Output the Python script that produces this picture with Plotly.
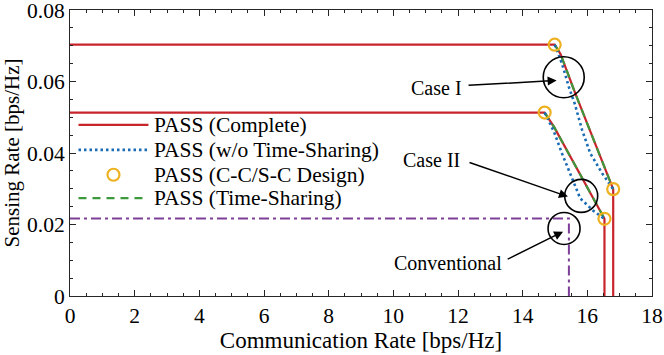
import plotly.graph_objects as go

# ---------------- data ----------------
# Case I (upper) curves
c1_complete_x = [0.0, 14.99, 15.17, 15.63, 16.80, 16.80]
c1_complete_y = [0.0703, 0.0703, 0.0677, 0.0566, 0.0299, 0.0]
c1_nots_x = [14.99, 15.22, 15.43, 15.61, 15.84, 16.09, 16.46, 16.80]
c1_nots_y = [0.0703, 0.0649, 0.0584, 0.0538, 0.0464, 0.0399, 0.0343, 0.0299]
c1_ts_x = [14.99, 15.17, 15.63, 16.80]
c1_ts_y = [0.0703, 0.0677, 0.0566, 0.0299]
c1_design_x = [14.99, 16.80]
c1_design_y = [0.0703, 0.0299]

# Case II (lower) curves
c2_complete_x = [0.0, 14.68, 14.97, 16.53, 16.53]
c2_complete_y = [0.0513, 0.0513, 0.0473, 0.0216, 0.0]
c2_nots_x = [14.68, 14.97, 15.22, 15.53, 15.78, 16.19, 16.53]
c2_nots_y = [0.0513, 0.0459, 0.0398, 0.0329, 0.0273, 0.0238, 0.0216]
c2_ts_x = [14.68, 14.97, 16.53]
c2_ts_y = [0.0513, 0.0473, 0.0216]
c2_design_x = [14.68, 16.53]
c2_design_y = [0.0513, 0.0216]

# Conventional
conv_x = [0.0, 15.43, 15.43]
conv_y = [0.0217, 0.0217, 0.0]

x_ticks = [0, 2, 4, 6, 8, 10, 12, 14, 16, 18]
y_ticks = [0, 0.02, 0.04, 0.06, 0.08]
y_tick_labels = ["0", "0.02", "0.04", "0.06", "0.08"]

legend_names = ["PASS (Complete)", "PASS (w/o Time-Sharing)",
                "PASS (C-C/S-C Design)", "PASS (Time-Sharing)"]

RED = "#C8242B"
BLUE = "#1A6BB5"
YEL = "#EDB120"
GRN = "#3C9A3C"
PUR = "#7E3F98"
FONT = "'Liberation Serif', 'Times New Roman', Times, serif"
AX = "#262626"

fig = go.Figure()

for xs, ys in [(c1_complete_x, c1_complete_y), (c2_complete_x, c2_complete_y)]:
    fig.add_trace(go.Scatter(x=xs, y=ys, mode="lines",
                             line=dict(color=RED, width=2.2), showlegend=False))
for xs, ys in [(c1_ts_x, c1_ts_y), (c2_ts_x, c2_ts_y)]:
    fig.add_trace(go.Scatter(x=xs, y=ys, mode="lines",
                             line=dict(color=GRN, width=2.2, dash="8px,6px"), showlegend=False))
for xs, ys in [(c1_nots_x, c1_nots_y), (c2_nots_x, c2_nots_y)]:
    fig.add_trace(go.Scatter(x=xs, y=ys, mode="lines",
                             line=dict(color=BLUE, width=2.6, dash="2.5px,3px"), showlegend=False))
fig.add_trace(go.Scatter(x=conv_x, y=conv_y, mode="lines",
                         line=dict(color=PUR, width=2, dash="10px,4px,3px,4px"), showlegend=False))
for xs, ys in [(c1_design_x, c1_design_y), (c2_design_x, c2_design_y)]:
    fig.add_trace(go.Scatter(x=xs, y=ys, mode="markers",
                             marker=dict(symbol="circle-open", size=12, color=YEL,
                                         line=dict(width=2.2, color=YEL)),
                             showlegend=False, cliponaxis=False))

shapes = []
# annotation circles (pixel-sized, anchored in data coords)
for cx, cy, r in [(15.27, 0.0612, 20.5), (15.81, 0.0280, 16.5), (15.28, 0.0189, 16)]:
    shapes.append(dict(type="circle", xref="x", yref="y", xsizemode="pixel", ysizemode="pixel",
                       xanchor=cx, yanchor=cy, x0=-r, x1=r, y0=-r, y1=r,
                       line=dict(color="black", width=1.6)))

# custom legend (long line samples)
leg_y = [0.598, 0.511, 0.424, 0.342]
lx0, lx1, ltx = 0.0146, 0.1348, 0.1417
shapes.append(dict(type="line", xref="paper", yref="paper", x0=lx0, x1=lx1, y0=leg_y[0], y1=leg_y[0],
                   line=dict(color=RED, width=2.2)))
shapes.append(dict(type="line", xref="paper", yref="paper", x0=lx0, x1=lx1, y0=leg_y[1], y1=leg_y[1],
                   line=dict(color=BLUE, width=2.6, dash="2.5px,3px")))
shapes.append(dict(type="circle", xref="paper", yref="paper", xsizemode="pixel", ysizemode="pixel",
                   xanchor=(lx0 + lx1) / 2, yanchor=leg_y[2], x0=-6, x1=6, y0=-6, y1=6,
                   line=dict(color=YEL, width=2.2)))
shapes.append(dict(type="line", xref="paper", yref="paper", x0=lx0, x1=lx1, y0=leg_y[3], y1=leg_y[3],
                   line=dict(color=GRN, width=2.2, dash="8px,6px")))

annotations = []
for name, yy in zip(legend_names, leg_y):
    annotations.append(dict(text=name, xref="paper", yref="paper", x=ltx, y=yy,
                            xanchor="left", yanchor="middle", showarrow=False,
                            font=dict(family=FONT, size=21.5, color="black")))

# labels and arrows
for txt, tx, ty in [("Case I", 11.35, 0.0583), ("Case II", 11.18, 0.0380), ("Conventional", 11.68, 0.0092)]:
    annotations.append(dict(text=txt, x=tx, y=ty, xref="x", yref="y", showarrow=False,
                            font=dict(family=FONT, size=20, color="black")))
for (ax_, ay_), (hx, hy) in [((12.28, 0.0589), (15.05, 0.0603)),
                             ((12.31, 0.0375), (15.40, 0.0278)),
                             ((13.49, 0.0101), (15.25, 0.0180))]:
    annotations.append(dict(text="", x=hx, y=hy, ax=ax_, ay=ay_, xref="x", yref="y",
                            axref="x", ayref="y", showarrow=True, arrowhead=2,
                            arrowsize=1.2, arrowwidth=1.5, arrowcolor="black"))

axis_common = dict(showline=True, linecolor=AX, linewidth=1, mirror="ticks",
                   ticks="inside", ticklen=6, tickcolor=AX, showgrid=False, zeroline=False,
                   automargin=False, ticklabeloverflow="allow",
                   tickfont=dict(family=FONT, size=21.5, color="black"))

fig.update_layout(
    width=664, height=355,
    margin=dict(l=69.5, r=12.3, t=9.5, b=59),
    paper_bgcolor="white", plot_bgcolor="white",
    showlegend=False,
    font=dict(family=FONT),
    shapes=shapes, annotations=annotations,
    xaxis=dict(range=[0, 18], tickvals=x_ticks, title_text="Communication Rate [bps/Hz]",
               title_font=dict(family=FONT, size=23, color="black"),
               minor=dict(ticks="inside", ticklen=3, dtick=0.5, tickcolor=AX),
               title_standoff=1, **axis_common),
    yaxis=dict(range=[0, 0.08], tickvals=y_ticks, ticktext=y_tick_labels,
               title_text="Sensing Rate [bps/Hz]",
               title_font=dict(family=FONT, size=21, color="black"),
               minor=dict(ticks="inside", ticklen=3, dtick=0.005, tickcolor=AX),
               title_standoff=2, **axis_common),
)

fig.write_html("out.html", config={"displayModeBar": False},
               post_script="document.body.style.margin='0';document.body.style.padding='0';")
